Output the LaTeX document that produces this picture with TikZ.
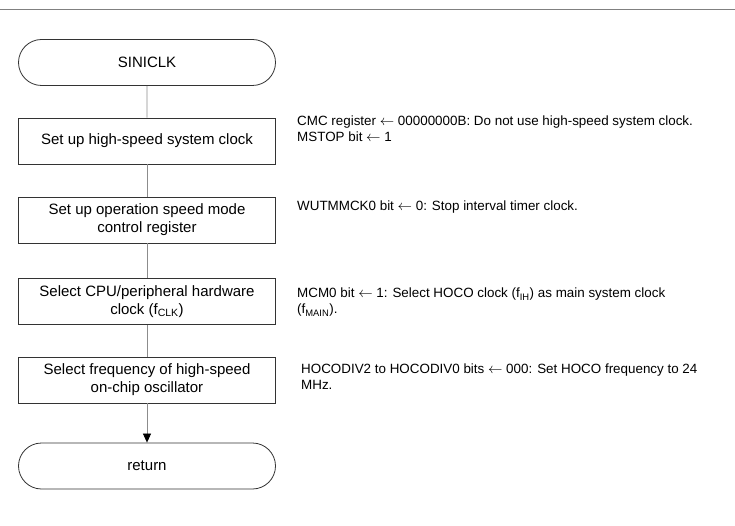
\documentclass[tikz,border=0pt]{standalone}
\usepackage{fontspec}
\setmainfont{Liberation Sans}
\usetikzlibrary{shapes.misc,arrows.meta}

\begin{document}
\begin{tikzpicture}[
    x=1pt, y=-1pt,
    font=\fontsize{15}{18}\selectfont,
    term/.style={rounded rectangle, draw=black!80, line width=0.8pt,
        minimum width=257pt, minimum height=46pt, inner sep=0pt},
    procbox/.style={rectangle, draw=black!80, line width=0.8pt,
        minimum width=257pt, minimum height=46pt, inner sep=0pt, align=center},
    note/.style={anchor=west, align=left, inner sep=0pt,
        font=\fontsize{13.4}{16}\selectfont},
    flow/.style={draw=black!45, line width=0.7pt}
]
    \useasboundingbox (0,0) rectangle (735,526);

    % Header rule
    \draw[black!50, line width=1.5pt] (0,9.5) -- (735,9.5);

    % Coordinates
    \coordinate (start) at (147,62.5);
    \coordinate (hsclk) at (147,141);
    \coordinate (spdmode) at (147,220);
    \coordinate (cpuclk) at (147,301.5);
    \coordinate (hocofreq) at (147,380);
    \coordinate (ret) at (147,466);

    % Flowchart nodes
    \node[term] (n_start) at (start) {SINICLK};
    \node[procbox] (n_hsclk) at (hsclk) {Set up high-speed system clock};
    \node[procbox] (n_spdmode) at (spdmode) {Set up operation speed mode\\control register};
    \node[procbox] (n_cpuclk) at (cpuclk) {Select CPU/peripheral hardware\\clock (f\textsubscript{CLK})};
    \node[procbox] (n_hocofreq) at (hocofreq) {Select frequency of high-speed\\on-chip oscillator};
    \node[term] (n_ret) at (ret) {return};

    % Connectors
    \draw[flow] (n_start) -- (n_hsclk);
    \draw[flow] (n_hsclk) -- (n_spdmode);
    \draw[flow] (n_spdmode) -- (n_cpuclk);
    \draw[flow] (n_cpuclk) -- (n_hocofreq);
    \draw[flow, -{Triangle[width=8pt, length=9pt, color=black]}] (n_hocofreq) -- (n_ret);

    % Notes
    \node[note] (d_hsclk) at (297,129) {CMC register $\leftarrow$ 00000000B: Do not use high-speed system clock.\\MSTOP bit $\leftarrow$ 1};
    \node[note] (d_spdmode) at (297,207) {WUTMMCK0 bit $\leftarrow$ 0: Stop interval timer clock.};
    \node[note] (d_cpuclk) at (297,302.5) {MCM0 bit $\leftarrow$ 1: Select HOCO clock (f\textsubscript{IH}) as main system clock\\(f\textsubscript{MAIN}).};
    \node[note] (d_hocofreq) at (301,377) {HOCODIV2 to HOCODIV0 bits $\leftarrow$ 000: Set HOCO frequency to 24\\MHz.};

\end{tikzpicture}
\end{document}
